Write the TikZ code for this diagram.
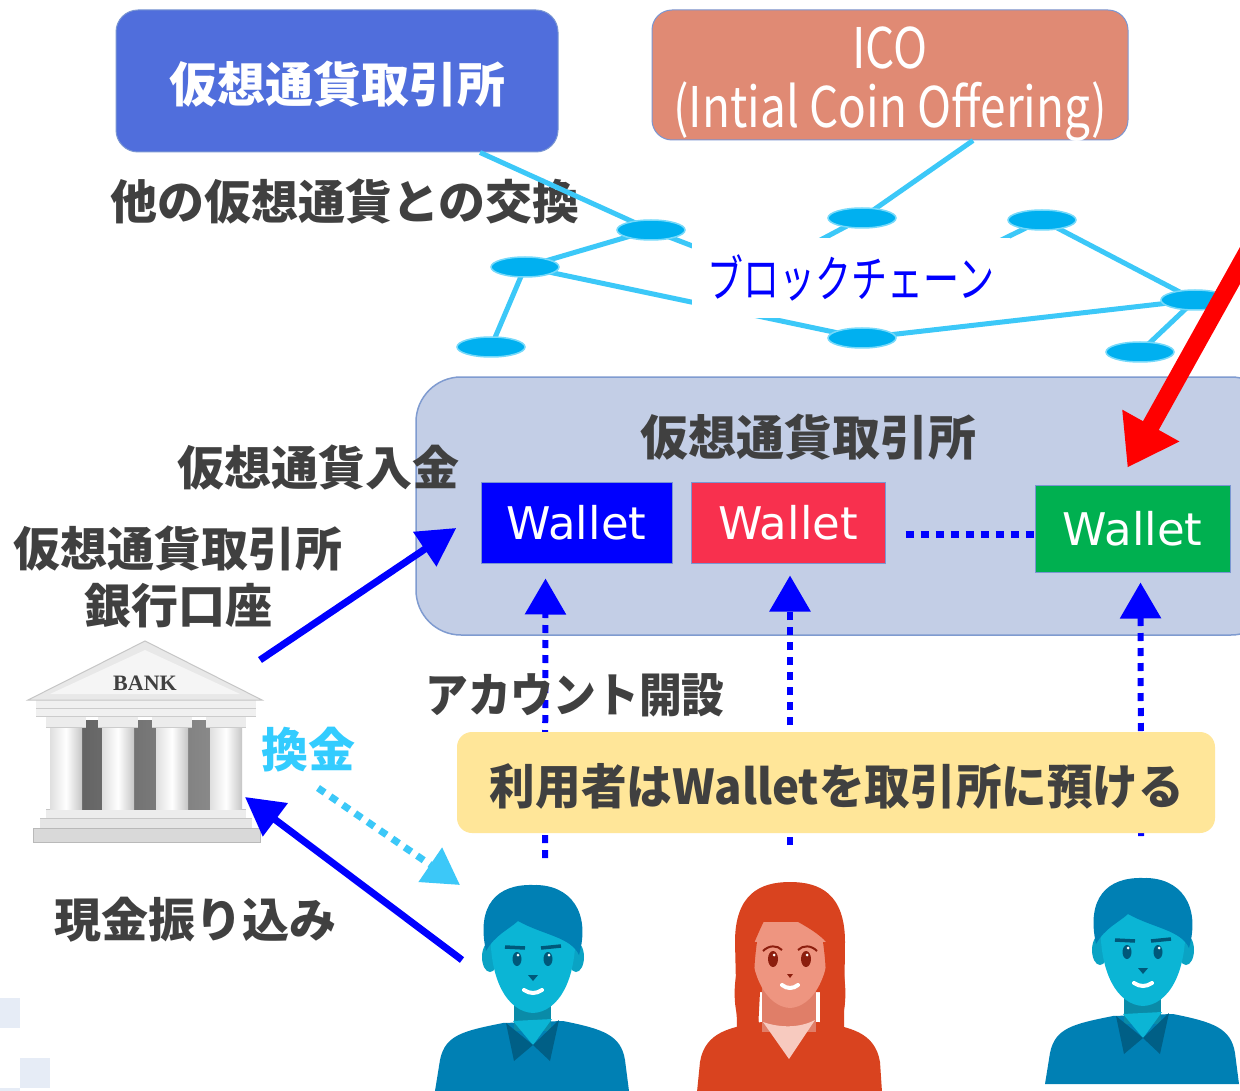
\documentclass[tikz,border=0pt]{standalone}
\usepackage{fontspec}
\setmainfont{DejaVu Sans}
\newfontfamily\jp{Noto Sans CJK JP}
\newfontfamily\bankfont{Liberation Serif}
\usetikzlibrary{arrows.meta,shapes.geometric,calc}

\definecolor{boxblue}{HTML}{506EDC}
\definecolor{icosalmon}{HTML}{E08A74}
\definecolor{boxedge}{HTML}{7A96D2}
\definecolor{exfill}{HTML}{C3CEE6}
\definecolor{exedge}{HTML}{7F9BD0}
\definecolor{lineblue}{HTML}{3CC8F8}
\definecolor{nodeblue}{HTML}{00B0F0}
\definecolor{txt}{HTML}{404040}
\definecolor{wblue}{HTML}{0000FF}
\definecolor{wred}{HTML}{F8304E}
\definecolor{wgreen}{HTML}{00B050}
\definecolor{yel}{HTML}{FFE699}
\definecolor{cyantext}{HTML}{33CCFF}
\definecolor{paleblue}{HTML}{E6ECF6}
% figure colours
\definecolor{mhair}{HTML}{0080B4}
\definecolor{mface}{HTML}{0BB5D5}
\definecolor{mear}{HTML}{0AA3C4}
\definecolor{mneck}{HTML}{0A8BA8}
\definecolor{mcollar}{HTML}{005F86}
\definecolor{meye}{HTML}{00587A}
\definecolor{whair}{HTML}{D9431F}
\definecolor{wface}{HTML}{EE9580}
\definecolor{wneck}{HTML}{E07E68}
\definecolor{wvee}{HTML}{F7CABF}
\definecolor{weye}{HTML}{8C1E0E}

\tikzset{
  jptext/.style={font=\jp\bfseries\fontsize{47}{57}\selectfont, text=txt, inner sep=0pt},
  chainln/.style={draw=lineblue, line width=5pt},
  chainnode/.style={ellipse, fill=nodeblue, draw=lineblue!70!white, line width=1.5pt,
    minimum width=68pt, minimum height=20pt, inner sep=0pt},
  walletbox/.style={draw=boxedge, line width=1pt, text=white, inner sep=0pt,
    font=\fontsize{45}{50}\selectfont, minimum height=81pt},
  bluearrow/.style={draw=wblue, line width=7pt, -{Triangle[length=38pt,width=40pt]}},
  upar/.style={draw=wblue, line width=6pt, dash pattern=on 8pt off 7pt,
    -{Triangle[length=36pt,width=40pt]}},
}

% a man, origin at the top of the hair, y pointing down
\newcommand\manfigure{%
  \fill[mhair] (-98,206) -- (-93,175) .. controls (-88,150) and (-70,146) .. (-30,138)
     -- (30,136) .. controls (70,144) and (88,150) .. (92,175) -- (96,206) -- cycle;
  \fill[mneck] (-19,108) rectangle (18,146);
  \fill[mface] (-20,136) -- (19,134) -- (0,160) -- cycle;
  \fill[mcollar] (-27,138) -- (0,160) -- (-19,176) -- cycle;
  \fill[mcollar] (26,135) -- (0,160) -- (17,176) -- cycle;
  \fill[mear] (-43,72) ellipse [x radius=8, y radius=15];
  \fill[mear] (43,72) ellipse [x radius=8, y radius=15];
  \fill[mface] (-42,35) .. controls (-46,95) and (-25,127) .. (0,128)
     .. controls (25,127) and (46,95) .. (42,35) -- cycle;
  \fill[mhair] (-47,66) .. controls (-57,20) and (-36,-1) .. (0,0)
     .. controls (38,-1) and (58,28) .. (46,70) .. controls (38,52) and (10,50) .. (-15,36)
     .. controls (-25,45) and (-38,50) .. (-47,66) -- cycle;
  \draw[meye, line width=3.5pt] (-28,62) -- (-8,63) (8,63) -- (28,61);
  \fill[meye] (-16,74) ellipse [x radius=4.5, y radius=7];
  \fill[meye] (15,74) ellipse [x radius=4.5, y radius=7];
  \fill[white] (-15,70) circle [radius=1.5] (16,70) circle [radius=1.5];
  \fill[meye] (-5,90) -- (5,90) -- (0,96) -- cycle;
  \draw[white, line width=4pt, line cap=round] (-9,105) .. controls (-3,109) and (3,109) .. (9,105);
}

% a woman, origin at the top of the hair, y pointing down
\newcommand\womanfigure{%
  \fill[whair] (-93,210) -- (-90,180) .. controls (-85,150) and (-60,145) .. (-28,140)
     -- (28,140) .. controls (60,145) and (85,150) .. (90,180) -- (92,210) -- cycle;
  \fill[whair] (-53,146) -- (-55,60) .. controls (-55,12) and (-30,0) .. (0,0)
     .. controls (30,0) and (55,12) .. (55,60) -- (54,146) -- (30,148) -- (30,110)
     -- (-30,110) -- (-32,148) -- cycle;
  \fill[wneck] (-28,105) rectangle (26,150);
  \fill[wvee] (-27,140) .. controls (-10,146) and (10,146) .. (25,138) -- (-1,177) -- cycle;
  \fill[wface] (-39,40) .. controls (-43,95) and (-22,125) .. (0,126)
     .. controls (22,125) and (43,95) .. (39,40) -- cycle;
  \fill[whair] (-45,60) .. controls (-60,100) and (-57,130) .. (-47,150)
     -- (-30,146) .. controls (-36,120) and (-38,95) .. (-33,60) -- cycle;
  \fill[whair] (45,60) .. controls (60,100) and (57,130) .. (47,150)
     -- (30,146) .. controls (36,120) and (38,95) .. (33,60) -- cycle;
  \fill[whair] (-45,82) .. controls (-53,25) and (-30,2) .. (0,1)
     .. controls (30,2) and (53,25) .. (44,72) .. controls (35,50) and (5,40) .. (-18,25)
     .. controls (-28,40) and (-35,60) .. (-45,82) -- cycle;
  \draw[weye, line width=2pt] (-27,69) .. controls (-21,63) and (-13,63) .. (-8,68)
     (8,68) .. controls (13,63) and (21,63) .. (27,69);
  \fill[weye] (-17,77) ellipse [x radius=5, y radius=8];
  \fill[weye] (16,77) ellipse [x radius=5, y radius=8];
  \fill[white] (-16,73) circle [radius=1.5] (17,73) circle [radius=1.5];
  \fill[weye] (-3,92) -- (3,92) -- (0,96) -- cycle;
  \draw[white, line width=4pt, line cap=round] (-8,103) .. controls (-3,107) and (3,107) .. (8,103);
}

\begin{document}
\begin{tikzpicture}[x=1pt,y=-1pt]
\useasboundingbox (0,0) rectangle (1240,1091);
\fill[white] (0,0) rectangle (1240,1091);

% pale squares in the lower left corner
\fill[paleblue] (0,998) rectangle (20,1028);
\fill[paleblue] (20,1058) rectangle (50,1088);
\fill[paleblue] (0,1088) rectangle (20,1091);

% top boxes
\node (topbox) [fill=boxblue, draw=boxedge, line width=1pt, rounded corners=22pt,
  minimum width=442pt, minimum height=142pt, inner sep=0pt]
  at (337,81) {};
\node (topboxlbl) [font=\jp\bfseries\fontsize{48}{56}\selectfont, text=white, inner sep=0pt]
  at (337,84) {仮想通貨取引所};
\node (ico) [fill=icosalmon, draw=boxedge, line width=1pt, rounded corners=20pt,
  minimum width=476pt, minimum height=130pt, inner sep=0pt]
  at (890,75) {};
\node (icolbl) [font=\jp\fontsize{56}{59}\selectfont, text=white, align=center, inner sep=0pt]
  at (890,84) {\scalebox{0.82}[1]{ICO}\\\scalebox{0.82}[1]{(Intial Coin Offering)}};

\node (other) [jptext] at (345,202) {他の仮想通貨との交換};

% blockchain network
\coordinate (n1) at (651,230);
\coordinate (n2) at (525,267);
\coordinate (n3) at (491,347);
\coordinate (n4) at (862,218);
\coordinate (n5) at (1042,220);
\coordinate (n6) at (1195,300);
\coordinate (n7) at (862,338);
\coordinate (n8) at (1140,352);
\coordinate (h1) at (760,272);
\coordinate (h2) at (900,290);
\draw[chainln] ([xshift=143pt]topbox.south) -- (n1);
\draw[chainln] ([xshift=83pt]ico.south) -- (n4);
\draw[chainln] (n1) -- (n2) (n2) -- (n3) (n2) -- (n7) (n7) -- (n6) (n5) -- (n6) (n6) -- (n8);
\draw[chainln] (n1) -- (h1) (n4) -- (h1) (n5) -- (h2);
\foreach \n in {n1,n2,n3,n4,n5,n6,n7,n8}
  \node (e\n) [chainnode] at (\n) {};
\node (bc) [fill=white, minimum width=318pt, minimum height=80pt, inner sep=0pt,
  text=wblue, font=\jp\fontsize{50}{56}\selectfont] at (851,278)
  {\scalebox{0.72}[1]{ブロックチェーン}};

% exchange box
\node (exch) [fill=exfill, draw=exedge, line width=1.5pt, rounded corners=45pt,
  minimum width=860pt, minimum height=258pt, inner sep=0pt] at (846,506) {};
\node (exlbl) [jptext, font=\jp\bfseries\fontsize{48}{56}\selectfont] at (808,437) {仮想通貨取引所};

\node (w1) [walletbox, fill=wblue, minimum width=191pt] at (576.5,522.5) {Wallet};
\node (w2) [walletbox, fill=wred, minimum width=194pt] at (788,522.5) {Wallet};
\node (w3) [walletbox, fill=wgreen, minimum width=195pt, minimum height=87pt] at (1132.5,528.5) {Wallet};
\draw[wblue, line width=7pt, dash pattern=on 8pt off 7pt] ([xshift=20pt,yshift=-12pt]w2.east) -- ([yshift=-6pt]w3.west);

% red arrow into the exchange
\coordinate (redstart) at (1262,226);
\draw[red, line width=18pt, -{Triangle[length=48pt,width=62pt]}] (redstart) -- ($(w3.north)+(-5,-17)$);

% people
\coordinate (p1) at (533,885);
\coordinate (p2) at (790,882);
\coordinate (p3) at (1143,878);
\begin{scope}[shift={(p1)}] \manfigure \end{scope}
\begin{scope}[shift={(p2)}] \womanfigure \end{scope}
\begin{scope}[shift={(p3)}] \manfigure \end{scope}

% dotted arrows from the users to their wallets
\draw[upar] ($(p1)+(12,-27)$) -- ($(w1.south)+(-31,15)$);
\draw[upar] ($(p2)+(0,-37)$) -- ($(w2.south)+(2,12)$);
\draw[upar] ($(p3)+(-2,-42)$) -- ($(w3.south)+(8,10)$);

% yellow note
\node (note) [fill=yel, rounded corners=15pt, minimum width=758pt, minimum height=101pt,
  inner sep=0pt] at (836,782.5) {};
\node (notelbl) [jptext, font=\jp\bfseries\fontsize{48}{56}\selectfont] at (837,786)
  {\scalebox{0.95}[1]{利用者はWalletを取引所に預ける}};

\node (acct) [jptext] at (575,695) {\scalebox{0.91}[1]{アカウント開設}};

% bank
\coordinate (bank) at (145,740);
\begin{scope}
  \fill[gray!30] (33,828) rectangle (260,842);
  \draw[gray!55, line width=1pt] (33,828) rectangle (260,842);
  \fill[gray!20] (40,818) rectangle (252,828);
  \fill[gray!15] (46,809) rectangle (246,818);
  \draw[gray!45] (40,818) -- (252,818) (46,809) -- (246,809);
  \shade[left color=black!62, right color=black!45] (70,720) rectangle (222,809);
  \foreach \cx in {66,118,172,226} {
    \shade[left color=gray!25, right color=gray!45, middle color=white] (\cx-16,722) rectangle (\cx+16,809);
    \fill[gray!15] (\cx-20,716) rectangle (\cx+20,727);
    \draw[gray!40] (\cx-20,727) -- (\cx+20,727);
  }
  \fill[gray!12] (36,700) rectangle (256,716);
  \draw[gray!40] (36,708) -- (256,708) (36,716) -- (256,716);
  \fill[gray!18] (28,700) -- (145,641) -- (262,700) -- cycle;
  \fill[gray!8] (50,694) -- (145,650) -- (240,694) -- cycle;
  \draw[gray!45, line width=1pt] (28,700) -- (145,641) -- (262,700) -- cycle;
\end{scope}
\node (banklbl) [font=\bankfont\bfseries\fontsize{22}{24}\selectfont, text=txt, inner sep=0pt] at (145,683) {BANK};

% labels on the left
\node (deposit) [jptext] at (318,467) {仮想通貨入金};
\node (account) [jptext, align=center] at (178,577) {仮想通貨取引所\\銀行口座};
\node (cash) [jptext, text=cyantext] at (308,750) {換金};
\node (transfer) [jptext] at (195,920) {現金振り込み};

% money flows
\draw[bluearrow] ($(bank)+(115,-80)$) -- ($(exch.west)+(41,22)$);
\draw[bluearrow] ($(p1)+(-71,75)$) -- ($(bank)+(100,57)$);
\draw[draw=lineblue, line width=7pt, dash pattern=on 8pt off 7pt,
  -{Triangle[length=36pt,width=40pt]}] ($(bank)+(173,48)$) -- ($(p1)+(-73,0)$);
\end{tikzpicture}
\end{document}
